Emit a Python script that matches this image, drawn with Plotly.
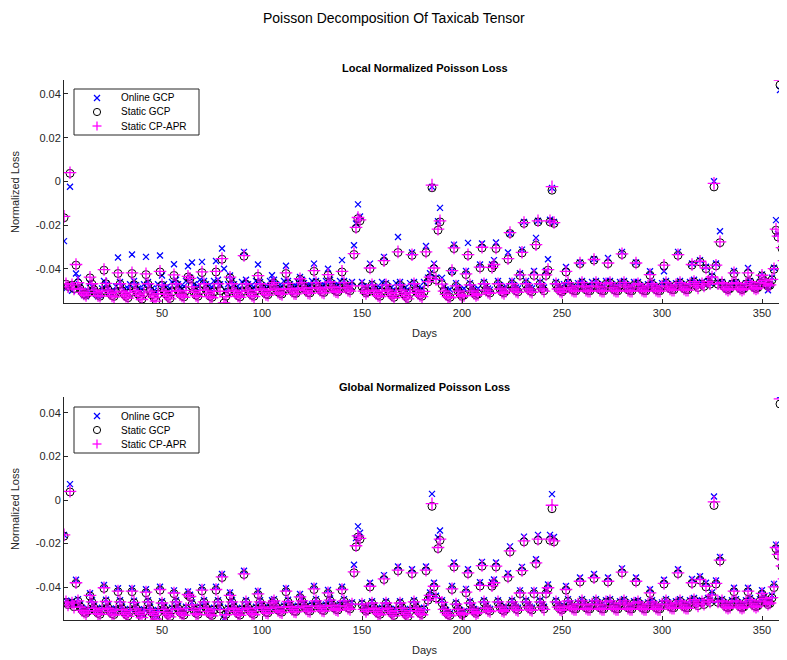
import plotly.graph_objects as go

# Normalized Poisson loss values in units of 1e-4, one row per week (days 1..365)
static_gcp = [
    -166, -470, -480, 37, -475, -490, -383,
    -465, -490, -505, -515, -520, -510, -441,
    -470, -495, -510, -520, -525, -505, -406,
    -468, -495, -512, -522, -526, -508, -421,
    -470, -500, -515, -525, -532, -510, -421,
    -472, -498, -515, -524, -538, -512, -426,
    -470, -500, -518, -530, -545, -515, -414,
    -475, -500, -515, -525, -535, -505, -430,
    -470, -498, -515, -522, -528, -500, -437,
    -445, -480, -505, -520, -525, -500, -417,
    -470, -495, -510, -525, -530, -505, -414,
    -470, -500, -356, -556, -525, -505, -441,
    -470, -495, -510, -522, -528, -505, -342,
    -470, -495, -510, -520, -525, -500, -434,
    -470, -490, -505, -515, -518, -500, -475,
    -465, -490, -505, -512, -515, -495, -421,
    -468, -488, -500, -510, -512, -495, -448,
    -465, -485, -498, -508, -510, -490, -411,
    -465, -485, -495, -505, -508, -490, -429,
    -462, -482, -495, -502, -505, -488, -414,
    -465, -485, -495, -500, -480, -334, -215,
    -170, -180, -480, -500, -510, -505, -399,
    -475, -495, -510, -520, -525, -505, -365,
    -475, -495, -510, -520, -530, -510, -325,
    -475, -495, -515, -525, -535, -510, -338,
    -470, -495, -510, -520, -525, -505, -325,
    -460, -440, -29, -399, -450, -223, -185,
    -472, -500, -515, -525, -530, -411, -307,
    -480, -500, -515, -525, -520, -426, -338,
    -475, -500, -510, -520, -515, -395, -304,
    -470, -495, -505, -510, -396, -383, -307,
    -470, -490, -505, -510, -500, -356, -238,
    -470, -490, -500, -505, -430, -327, -192,
    -470, -490, -500, -505, -430, -292, -185,
    -470, -490, -500, -430, -406, -185, -40,
    -192, -470, -490, -500, -505, -495, -414,
    -465, -485, -495, -500, -500, -480, -376,
    -465, -480, -495, -500, -500, -480, -360,
    -465, -480, -495, -500, -500, -470, -376,
    -465, -485, -495, -500, -500, -475, -334,
    -465, -480, -495, -500, -500, -475, -376,
    -470, -485, -495, -500, -500, -480, -429,
    -470, -485, -495, -500, -500, -480, -386,
    -465, -480, -490, -495, -495, -475, -338,
    -465, -480, -490, -495, -495, -470, -383,
    -460, -475, -485, -368, -470, -480, -399,
    -460, -470, -440, -25, -386, -470, -280,
    -465, -480, -490, -495, -490, -470, -421,
    -465, -480, -490, -495, -490, -470, -421,
    -460, -475, -485, -490, -485, -465, -432,
    -455, -470, -480, -475, -450, -402, -223,
    -254, 441, -307, -365, -182, -300, -340,
    -200,
]

static_cpapr = [
    -160, -468, -482, 40, -473, -492, -380,
    -463, -492, -507, -515, -522, -508, -438,
    -468, -497, -510, -522, -525, -503, -403,
    -466, -497, -512, -524, -528, -506, -418,
    -468, -502, -517, -525, -534, -508, -418,
    -470, -500, -517, -526, -540, -510, -423,
    -468, -502, -520, -530, -547, -513, -411,
    -473, -502, -517, -527, -537, -503, -427,
    -468, -500, -517, -524, -530, -498, -434,
    -443, -482, -507, -522, -527, -498, -414,
    -468, -497, -512, -527, -532, -503, -411,
    -468, -502, -353, -556, -527, -503, -438,
    -468, -497, -512, -524, -530, -503, -339,
    -468, -497, -512, -522, -527, -498, -431,
    -468, -492, -507, -517, -520, -498, -472,
    -463, -492, -507, -514, -517, -493, -418,
    -466, -490, -502, -512, -514, -493, -445,
    -463, -487, -500, -510, -512, -488, -408,
    -463, -487, -497, -507, -510, -488, -426,
    -460, -484, -497, -504, -507, -486, -411,
    -463, -487, -497, -502, -478, -330, -210,
    -165, -176, -478, -502, -512, -503, -396,
    -473, -497, -512, -522, -527, -503, -362,
    -473, -497, -512, -522, -532, -508, -322,
    -473, -497, -517, -527, -537, -508, -335,
    -468, -497, -512, -522, -527, -503, -322,
    -458, -438, -17, -396, -448, -218, -180,
    -470, -502, -517, -527, -532, -408, -304,
    -478, -502, -517, -527, -522, -423, -335,
    -473, -502, -512, -522, -517, -392, -301,
    -468, -497, -507, -512, -393, -380, -304,
    -468, -492, -507, -512, -502, -353, -234,
    -468, -492, -502, -507, -427, -324, -188,
    -468, -492, -502, -507, -427, -289, -180,
    -468, -492, -502, -427, -403, -180, -24,
    -188, -468, -492, -502, -507, -493, -411,
    -463, -487, -497, -502, -502, -478, -373,
    -463, -482, -497, -502, -502, -478, -357,
    -463, -482, -497, -502, -502, -468, -373,
    -463, -487, -497, -502, -502, -473, -331,
    -463, -482, -497, -502, -502, -473, -373,
    -468, -487, -497, -502, -502, -478, -426,
    -468, -487, -497, -502, -502, -478, -383,
    -463, -482, -492, -497, -497, -473, -335,
    -463, -482, -492, -497, -497, -468, -380,
    -458, -477, -487, -365, -468, -478, -396,
    -458, -468, -437, -9, -383, -468, -276,
    -463, -482, -492, -497, -492, -468, -418,
    -463, -482, -492, -497, -492, -468, -418,
    -458, -477, -487, -492, -487, -463, -429,
    -453, -468, -478, -473, -448, -399, -218,
    -250, 464, -303, -362, -182, -297, -337,
    -197,
]

online_gcp_local = [
    -273, -490, -480, -24, -500, -470, -421,
    -440, -480, -505, -520, -525, -500, -465,
    -480, -500, -515, -525, -520, -490, -455,
    -470, -490, -505, -515, -500, -480, -348,
    -460, -480, -495, -505, -490, -470, -334,
    -455, -475, -490, -500, -495, -470, -345,
    -460, -480, -490, -500, -505, -470, -339,
    -430, -470, -485, -495, -490, -460, -379,
    -450, -470, -485, -490, -480, -455, -388,
    -440, -371, -470, -485, -480, -450, -368,
    -455, -470, -480, -490, -485, -455, -364,
    -450, -470, -307, -399, -500, -470, -430,
    -455, -470, -485, -495, -490, -460, -322,
    -450, -470, -480, -490, -485, -455, -380,
    -460, -475, -485, -490, -480, -455, -429,
    -450, -470, -480, -485, -480, -455, -386,
    -455, -470, -480, -485, -480, -460, -437,
    -450, -465, -475, -480, -478, -455, -376,
    -455, -465, -475, -480, -475, -455, -399,
    -450, -465, -475, -480, -475, -455, -360,
    -455, -470, -480, -480, -460, -292, -192,
    -105, -160, -460, -480, -490, -480, -376,
    -465, -480, -490, -495, -485, -460, -345,
    -465, -480, -490, -500, -495, -465, -254,
    -460, -480, -490, -500, -495, -465, -325,
    -460, -478, -490, -495, -490, -460, -295,
    -440, -420, -25, -376, -440, -182, -121,
    -441, -480, -495, -500, -495, -410, -289,
    -465, -485, -495, -500, -490, -410, -281,
    -465, -485, -495, -500, -490, -380, -284,
    -460, -480, -490, -495, -380, -360, -279,
    -455, -475, -490, -495, -480, -325, -238,
    -455, -475, -485, -490, -420, -312, -185,
    -455, -475, -485, -490, -410, -258, -180,
    -460, -475, -485, -410, -356, -175, -30,
    -185, -460, -480, -490, -485, -470, -391,
    -460, -475, -485, -490, -480, -465, -370,
    -455, -470, -480, -485, -480, -460, -355,
    -455, -470, -480, -485, -480, -455, -350,
    -455, -470, -480, -485, -480, -460, -322,
    -455, -470, -480, -485, -480, -460, -370,
    -460, -475, -485, -490, -485, -470, -411,
    -460, -475, -485, -490, -480, -465, -411,
    -455, -470, -480, -485, -480, -465, -322,
    -455, -470, -480, -485, -480, -460, -375,
    -450, -465, -475, -360, -460, -470, -390,
    -455, -465, -430, 1, -375, -460, -228,
    -460, -475, -485, -490, -480, -465, -410,
    -460, -475, -485, -490, -480, -465, -396,
    -455, -470, -480, -485, -480, -460, -425,
    -455, -470, -498, -470, -440, -395, -177,
    -240, 418, -300, -355, -170, -290, -330,
    -190,
]

online_gcp_global = [
    -160, -462, -470, 73, -465, -480, -366,
    -455, -480, -495, -505, -510, -500, -428,
    -460, -485, -500, -510, -515, -495, -390,
    -458, -485, -502, -512, -516, -498, -405,
    -460, -490, -505, -515, -520, -500, -405,
    -462, -488, -505, -514, -526, -502, -410,
    -460, -490, -508, -520, -533, -505, -398,
    -465, -490, -505, -515, -523, -495, -415,
    -460, -488, -505, -512, -518, -490, -420,
    -435, -470, -495, -510, -515, -490, -400,
    -460, -485, -500, -515, -520, -495, -398,
    -460, -490, -340, -545, -515, -495, -425,
    -460, -485, -500, -512, -518, -495, -325,
    -460, -485, -500, -510, -515, -490, -418,
    -460, -480, -495, -505, -508, -490, -460,
    -455, -480, -495, -502, -505, -485, -405,
    -458, -478, -490, -500, -502, -485, -432,
    -455, -475, -488, -498, -500, -480, -395,
    -455, -475, -485, -495, -498, -480, -413,
    -452, -472, -485, -492, -495, -478, -398,
    -455, -475, -485, -490, -470, -297, -175,
    -121, -150, -470, -490, -500, -495, -380,
    -465, -485, -500, -510, -515, -495, -345,
    -465, -485, -500, -510, -520, -500, -305,
    -465, -485, -505, -515, -525, -500, -318,
    -460, -485, -500, -510, -515, -495, -305,
    -450, -425, 28, -380, -440, -172, -140,
    -460, -490, -505, -515, -520, -395, -287,
    -470, -490, -505, -515, -510, -408, -318,
    -465, -490, -500, -510, -505, -378, -284,
    -460, -485, -495, -500, -378, -365, -287,
    -460, -480, -495, -500, -490, -336, -213,
    -460, -480, -490, -495, -415, -307, -168,
    -460, -480, -490, -495, -415, -272, -160,
    -460, -480, -490, -415, -388, -160, 27,
    -170, -460, -480, -490, -495, -485, -395,
    -455, -475, -485, -490, -490, -470, -356,
    -455, -470, -485, -490, -490, -470, -340,
    -455, -470, -485, -490, -490, -460, -356,
    -455, -475, -485, -490, -490, -465, -314,
    -455, -470, -485, -490, -490, -465, -356,
    -460, -475, -485, -490, -490, -470, -410,
    -460, -475, -485, -490, -490, -470, -366,
    -455, -470, -480, -485, -485, -465, -318,
    -455, -470, -480, -485, -485, -460, -363,
    -450, -465, -475, -350, -460, -470, -380,
    -450, -460, -425, 16, -370, -460, -262,
    -455, -470, -480, -485, -480, -460, -403,
    -455, -470, -480, -485, -480, -460, -403,
    -450, -465, -475, -480, -475, -455, -414,
    -445, -460, -470, -465, -438, -385, -205,
    -236, 480, -290, -350, -170, -290, -330,
    -190,
]

series_names = ["Online GCP", "Static GCP", "Static CP-APR"]
days = list(range(1, len(static_gcp) + 1))
SCALE = 1e-4

def scaled(vals):
    return [v * SCALE for v in vals]

ytick_vals = [-0.04, -0.02, 0, 0.02, 0.04]
ytick_text = ["-0.04", "-0.02", "0", "0.02", "0.04"]
xtick_vals = [50, 100, 150, 200, 250, 300, 350]

BLUE = "#0000FF"
MAGENTA = "#FF00FF"
AXC = "#262626"
FONT = "Liberation Sans, Arial, sans-serif"

# The page places the figure 8px in from the window's top-left corner,
# so the figure is sized to fill the rest of the 787x660 window.
OFF = 8
W, H = 787 - OFF, 660 - OFF

def px(x):
    return (x - OFF) / W

def py(y):
    return 1 - (y - OFF) / H

fig = go.Figure()

for xa, ya, online in [("x", "y", online_gcp_local), ("x2", "y2", online_gcp_global)]:
    fig.add_trace(go.Scatter(
        x=days, y=scaled(online), mode="markers", name=series_names[0],
        xaxis=xa, yaxis=ya, showlegend=False,
        marker=dict(symbol="x-thin-open", size=6, color=BLUE, line=dict(width=1.3, color=BLUE)),
    ))
    fig.add_trace(go.Scatter(
        x=days, y=scaled(static_gcp), mode="markers", name=series_names[1],
        xaxis=xa, yaxis=ya, showlegend=False,
        marker=dict(symbol="circle-open", size=8, color="black", line=dict(width=1, color="black")),
    ))
    fig.add_trace(go.Scatter(
        x=days, y=scaled(static_cpapr), mode="markers", name=series_names[2],
        xaxis=xa, yaxis=ya, showlegend=False,
        marker=dict(symbol="cross-thin-open", size=9, color=MAGENTA, line=dict(width=1.3, color=MAGENTA)),
    ))

x_dom = [px(64), 1.0]
top_dom = [py(303), py(80)]
bot_dom = [py(620), py(397)]

axis_common = dict(
    showgrid=False, zeroline=False, showline=True, linecolor=AXC, linewidth=1,
    ticks="inside", ticklen=4, tickcolor=AXC, tickfont=dict(size=11, color=AXC, family=FONT),
)

fig.update_layout(
    width=W, height=H,
    margin=dict(l=0, r=0, t=0, b=0),
    paper_bgcolor="white", plot_bgcolor="white",
    font=dict(family=FONT, color=AXC),
    showlegend=False,
    xaxis=dict(domain=x_dom, anchor="y", range=[1, 362.5], tickvals=xtick_vals, **axis_common),
    yaxis=dict(domain=top_dom, anchor="x", range=[-0.0556, 0.0464], tickvals=ytick_vals, ticktext=ytick_text, **axis_common),
    xaxis2=dict(domain=x_dom, anchor="y2", range=[1, 362.5], tickvals=xtick_vals, **axis_common),
    yaxis2=dict(domain=bot_dom, anchor="x2", range=[-0.0551, 0.0473], tickvals=ytick_vals, ticktext=ytick_text, **axis_common),
)

# legend boxes drawn as layout shapes + text
for top in (89, 407):
    fig.add_shape(type="rect", xref="paper", yref="paper", layer="above",
                  x0=px(74), x1=px(199), y0=py(top), y1=py(top + 46),
                  line=dict(color=AXC, width=1), fillcolor="white")
    rows = [top + 9, top + 23, top + 37]
    cx = 97
    cy = rows[0]
    for s in (1, -1):
        fig.add_shape(type="line", xref="paper", yref="paper", layer="above",
                      x0=px(cx - 3), x1=px(cx + 3), y0=py(cy - 3 * s), y1=py(cy + 3 * s),
                      line=dict(color=BLUE, width=1.3))
    cy = rows[1]
    fig.add_shape(type="circle", xref="paper", yref="paper", layer="above",
                  x0=px(cx - 3.6), x1=px(cx + 3.6), y0=py(cy - 3.6), y1=py(cy + 3.6),
                  line=dict(color="black", width=1))
    cy = rows[2]
    fig.add_shape(type="line", xref="paper", yref="paper", layer="above",
                  x0=px(cx - 4.5), x1=px(cx + 4.5), y0=py(cy), y1=py(cy),
                  line=dict(color=MAGENTA, width=1.3))
    fig.add_shape(type="line", xref="paper", yref="paper", layer="above",
                  x0=px(cx), x1=px(cx), y0=py(cy - 4.5), y1=py(cy + 4.5),
                  line=dict(color=MAGENTA, width=1.3))
    for name, ry in zip(series_names, rows):
        fig.add_annotation(text=name, x=px(119), y=py(ry), xref="paper", yref="paper",
                           xanchor="left", yanchor="middle", showarrow=False,
                           font=dict(size=10, color="black", family=FONT))

ann = [
    ("Poisson Decomposition Of Taxicab Tensor", 394, 18, 14, 0, "black"),
    ("<b>Local Normalized Poisson Loss</b>", 425, 68, 11, 0, "black"),
    ("<b>Global Normalized Poisson Loss</b>", 425, 387, 11, 0, "black"),
    ("Days", 425, 333, 11, 0, AXC),
    ("Days", 425, 650, 11, 0, AXC),
    ("Normalized Loss", 15, 192, 11, -90, AXC),
    ("Normalized Loss", 15, 509, 11, -90, AXC),
]
for text, x, y, size, angle, col in ann:
    fig.add_annotation(
        text=text, x=px(x), y=py(y), xref="paper", yref="paper",
        xanchor="center", yanchor="middle", showarrow=False, textangle=angle,
        font=dict(size=size, color=col, family=FONT),
    )

fig.write_html("out.html")
